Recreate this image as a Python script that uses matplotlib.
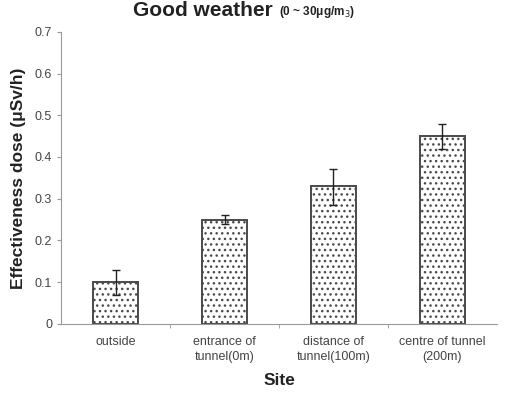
import numpy as np
import matplotlib
matplotlib.use('Agg')
from matplotlib import pyplot as plt

sites = ['outside', 'entrance of\ntunnel(0m)', 'distance of\ntunnel(100m)', 'centre of tunnel\n(200m)']
dose = [0.10, 0.25, 0.33, 0.45]
err_lo = [0.03, 0.01, 0.045, 0.03]
err_hi = [0.03, 0.01, 0.04, 0.03]

plt.rcParams['font.family'] = ['Liberation Sans', 'DejaVu Sans']
plt.rcParams['hatch.color'] = '#555555'
plt.rcParams['hatch.linewidth'] = 1.0

fig = plt.figure(figsize=(5.05, 3.93), dpi=100)
ax = fig.add_axes([0.121, 0.176, 0.863, 0.743])

xs = np.arange(len(sites))
ax.bar(xs, dose, width=0.41, color='white', edgecolor='#4a4a4a', linewidth=1.4, hatch='...')
ax.errorbar(xs, dose, yerr=[err_lo, err_hi], fmt='none', ecolor='#222222',
            elinewidth=1.0, capsize=3, capthick=1.0)

ax.set_xlim(-0.5, len(sites) - 0.5)
ax.set_ylim(0, 0.7)
ax.set_yticks(np.arange(0, 0.71, 0.1))
ax.set_yticklabels(['0', '0.1', '0.2', '0.3', '0.4', '0.5', '0.6', '0.7'])
ax.set_xticks(xs)
ax.set_xticklabels(sites, linespacing=1.3)
ax.set_xticks(np.arange(0.5, len(sites) - 0.5), minor=True)
ax.tick_params(axis='x', which='major', length=0, labelsize=9, colors='#444444', pad=9)
ax.tick_params(axis='x', which='minor', length=3, color='#999999')
ax.tick_params(axis='y', length=3, color='#999999', labelsize=9, colors='#444444')
for s in ['top', 'right']:
    ax.spines[s].set_visible(False)
for s in ['left', 'bottom']:
    ax.spines[s].set_color('#999999')

ax.set_ylabel('Effectiveness dose (μSv/h)', fontsize=12.5, fontweight='bold', color='#222222', labelpad=6)
ax.set_xlabel('Site', fontsize=12.5, fontweight='bold', color='#222222', labelpad=7)

fig.text(0.54, 0.998, r'Good weather', fontsize=15, fontweight='bold', color='#222222',
         ha='right', va='top')
fig.text(0.552, 0.99, r'(0 ~ 30μg/m$_3$)', fontsize=8.5, fontweight='bold', color='#222222',
         ha='left', va='top')

fig.savefig('out.png', dpi=100)
